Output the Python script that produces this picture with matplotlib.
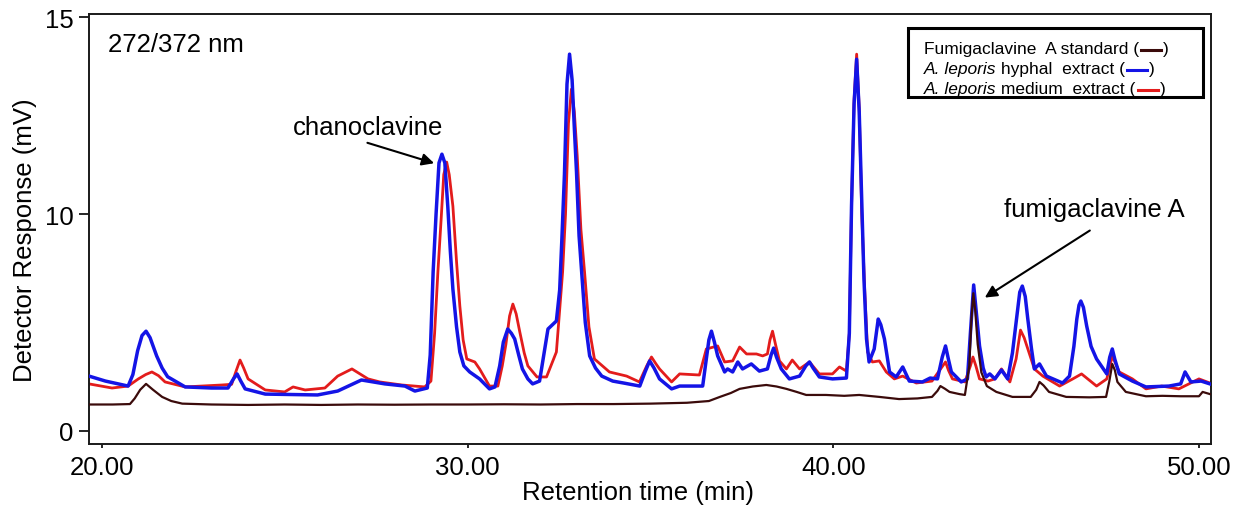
import matplotlib
matplotlib.use("Agg")
import matplotlib.pyplot as plt
import numpy as np
from matplotlib.patches import Rectangle
from matplotlib.lines import Line2D

plt.rcParams["font.family"] = ["Liberation Sans", "DejaVu Sans"]

# ---- chromatogram data (retention time in min, detector response in mV) ----
t_std = [19.65, 20.3, 20.77, 20.9, 21.05, 21.21, 21.4, 21.65, 21.9, 22.2, 23.0, 24.0, 25.0,
         26.0, 27.0, 28.0, 29.0, 30.0, 31.0, 32.0, 33.0, 34.0, 35.0, 36.0, 36.6, 36.9,
         37.2, 37.44, 37.8, 38.17, 38.45, 38.72, 39.0, 39.26, 39.8, 40.3, 40.71, 41.26,
         41.8, 42.3, 42.7, 42.85, 42.93, 43.05, 43.18, 43.45, 43.6, 43.72, 43.78, 43.83,
         43.88, 43.95, 44.05, 44.2, 44.46, 44.9, 45.4, 45.55, 45.64, 45.75, 45.9, 46.37,
         47.0, 47.46, 47.55, 47.63, 47.7, 47.77, 48.0, 48.55, 49.0, 49.5, 50.0, 50.1, 50.3]
v_std = [1.22, 1.22, 1.24, 1.5, 1.9, 2.17, 1.9, 1.57, 1.38, 1.26, 1.22, 1.2, 1.22,
         1.2, 1.22, 1.21, 1.22, 1.22, 1.23, 1.22, 1.24, 1.24, 1.26, 1.3, 1.38, 1.57,
         1.75, 1.94, 2.05, 2.12, 2.05, 1.94, 1.8, 1.66, 1.66, 1.62, 1.66, 1.57,
         1.47, 1.5, 1.57, 1.85, 2.07, 1.95, 1.8, 1.7, 1.66, 3.0, 5.2, 6.35,
         5.6, 4.0, 2.7, 2.07, 1.8, 1.57, 1.57, 1.9, 2.26, 2.1, 1.8, 1.57,
         1.55, 1.57, 2.3, 3.09, 2.8, 2.26, 1.8, 1.6, 1.62, 1.6, 1.6, 1.8, 1.7]

t_hyph = [19.65, 20.1, 20.72, 20.85, 20.98, 21.1, 21.21, 21.32, 21.5, 21.65, 21.8, 22.28,
          23.0, 23.45, 23.6, 23.7, 23.8, 23.92, 24.47, 25.2, 25.9, 26.45, 27.1, 27.74,
          28.29, 28.56, 28.9, 28.98, 29.06, 29.14, 29.22, 29.3, 29.38, 29.46, 29.53, 29.6,
          29.7, 29.79, 29.9, 30.06, 30.33, 30.6, 30.75, 30.88, 30.98, 31.1, 31.2, 31.29,
          31.4, 31.5, 31.65, 31.78, 31.97, 32.2, 32.43, 32.52, 32.58, 32.65, 32.72, 32.79,
          32.86, 32.92, 32.98, 33.05, 33.12, 33.22, 33.34, 33.5, 33.67, 33.97, 34.3, 34.71,
          34.85, 34.98, 35.1, 35.25, 35.58, 35.8, 36.43, 36.53, 36.6, 36.67, 36.75, 36.84,
          37.03, 37.11, 37.25, 37.39, 37.52, 37.76, 37.98, 38.2, 38.3, 38.37, 38.45, 38.58,
          38.8, 39.08, 39.25, 39.35, 39.45, 39.62, 39.98, 40.36, 40.44, 40.5, 40.57, 40.64,
          40.71, 40.77, 40.84, 40.91, 40.98, 41.12, 41.23, 41.3, 41.4, 41.54, 41.72, 41.9,
          42.08, 42.44, 42.65, 42.85, 42.98, 43.07, 43.15, 43.23, 43.5, 43.67, 43.75, 43.84,
          43.92, 44.0, 44.1, 44.18, 44.28, 44.42, 44.6, 44.77, 44.9, 45.0, 45.1, 45.17,
          45.25, 45.32, 45.42, 45.5, 45.64, 45.83, 46.27, 46.46, 46.58, 46.66, 46.72, 46.77,
          46.84, 46.93, 47.05, 47.2, 47.48, 47.56, 47.63, 47.7, 47.82, 48.18, 48.55, 49.18,
          49.5, 49.62, 49.78, 50.06, 50.3]
v_hyph = [2.53, 2.3, 2.07, 2.6, 3.7, 4.4, 4.6, 4.3, 3.46, 2.9, 2.5, 2.03,
          1.98, 1.98, 2.4, 2.63, 2.3, 1.94, 1.7, 1.68, 1.66, 1.84, 2.35, 2.17,
          2.07, 1.84, 1.98, 3.5, 7.33, 10.0, 11.3, 11.52, 11.3, 10.2, 8.3, 6.54,
          4.8, 3.64, 3.0, 2.72, 2.4, 1.94, 2.03, 3.0, 4.1, 4.7, 4.5, 4.24,
          3.5, 2.86, 2.4, 2.17, 2.3, 4.7, 5.07, 6.5, 8.85, 11.0, 13.3, 14.06,
          13.4, 12.2, 11.07, 9.0, 7.33, 5.0, 3.46, 2.9, 2.53, 2.3, 2.2, 2.07,
          2.7, 3.23, 2.9, 2.4, 1.94, 2.07, 2.07, 3.32, 4.2, 4.6, 4.1, 3.46,
          2.72, 2.86, 2.72, 3.18, 2.86, 3.09, 2.76, 2.86, 3.5, 3.82, 3.4, 2.86,
          2.4, 2.53, 3.0, 3.18, 2.9, 2.49, 2.4, 2.44, 4.5, 10.2, 12.8, 13.93,
          12.6, 10.63, 7.0, 4.24, 3.18, 3.78, 5.16, 4.9, 4.24, 2.72, 2.49, 2.95,
          2.3, 2.26, 2.44, 2.4, 3.4, 3.92, 3.3, 2.72, 2.26, 2.4, 4.5, 6.73,
          5.3, 3.92, 2.9, 2.49, 2.63, 2.4, 2.81, 2.4, 3.6, 5.02, 6.4, 6.68,
          6.2, 5.16, 3.8, 2.86, 3.09, 2.53, 2.21, 2.53, 3.9, 5.16, 5.8, 5.99,
          5.7, 4.84, 3.9, 3.32, 2.63, 3.4, 3.78, 3.3, 2.63, 2.3, 2.03, 2.07,
          2.17, 2.72, 2.26, 2.3, 2.17]

t_med = [19.65, 20.28, 20.72, 21.0, 21.2, 21.37, 21.55, 21.73, 22.28, 22.74, 23.29, 23.55,
         23.68, 23.78, 23.88, 24.0, 24.47, 25.0, 25.23, 25.56, 26.1, 26.45, 26.84, 27.28,
         27.6, 28.2, 28.83, 29.0, 29.1, 29.19, 29.28, 29.35, 29.43, 29.5, 29.6, 29.7,
         29.79, 29.88, 29.98, 30.2, 30.33, 30.6, 30.83, 30.95, 31.05, 31.15, 31.24, 31.33,
         31.43, 31.55, 31.65, 31.9, 32.16, 32.43, 32.6, 32.68, 32.76, 32.84, 32.92, 33.0,
         33.1, 33.2, 33.32, 33.47, 33.88, 34.35, 34.7, 34.9, 35.03, 35.15, 35.25, 35.58,
         35.8, 36.34, 36.53, 36.84, 37.03, 37.25, 37.44, 37.63, 37.9, 38.07, 38.2, 38.27,
         38.34, 38.42, 38.53, 38.72, 38.88, 39.08, 39.35, 39.62, 39.98, 40.17, 40.36, 40.44,
         40.5, 40.57, 40.64, 40.71, 40.78, 40.86, 40.94, 41.07, 41.26, 41.45, 41.67, 41.9,
         42.27, 42.7, 42.95, 43.07, 43.15, 43.26, 43.6, 43.75, 43.82, 43.9, 44.0, 44.23,
         44.42, 44.6, 44.83, 45.0, 45.12, 45.22, 45.32, 45.5, 45.73, 46.19, 46.55, 46.79,
         47.2, 47.48, 47.63, 47.82, 48.18, 48.55, 48.98, 49.45, 50.0, 50.3]
v_med = [2.17, 1.98, 2.07, 2.4, 2.6, 2.72, 2.55, 2.26, 2.03, 2.07, 2.12, 2.15,
         2.8, 3.27, 2.9, 2.4, 1.89, 1.8, 2.03, 1.89, 1.98, 2.53, 2.86, 2.4,
         2.26, 2.12, 2.03, 2.3, 4.5, 7.33, 9.8, 11.0, 11.32, 11.0, 10.2, 7.8,
         5.76, 4.2, 3.32, 3.18, 2.86, 2.07, 2.07, 3.0, 4.0, 5.3, 5.85, 5.4,
         4.56, 3.6, 3.0, 2.49, 2.49, 3.64, 7.33, 10.0, 12.3, 13.17, 12.6, 11.47,
         9.3, 7.33, 4.8, 3.32, 2.72, 2.53, 2.26, 3.0, 3.41, 3.1, 2.86, 2.26,
         2.63, 2.58, 3.78, 3.92, 3.18, 3.23, 3.87, 3.55, 3.55, 3.46, 3.55, 4.2,
         4.6, 4.0, 3.23, 2.86, 3.27, 2.86, 3.18, 2.63, 2.63, 2.95, 2.76, 4.5,
         10.2, 12.9, 14.06, 12.7, 10.0, 6.5, 3.64, 3.18, 3.23, 2.72, 2.4, 2.53,
         2.21, 2.3, 2.9, 3.18, 2.8, 2.4, 2.26, 3.0, 3.41, 3.0, 2.4, 2.3,
         2.4, 2.86, 2.26, 3.32, 4.65, 4.3, 3.78, 2.86, 2.53, 2.07, 2.4, 2.63,
         2.07, 2.4, 3.46, 2.72, 2.4, 1.94, 2.07, 1.94, 2.4, 2.21]

x_ticks = [20, 30, 40, 50]
x_tick_labels = ["20.00", "30.00", "40.00", "50.00"]
y_ticks = [0, 10, 15]
y_tick_labels = ["0", "10", "15"]

C_STD = "#3b0b0b"
C_HYPH = "#1414e6"
C_MED = "#e31c1c"

# The response axis is stretched above 10 mV
K = 39.4 / 21.7


def fwd(y):
    y = np.asarray(y, dtype=float)
    return np.where(y <= 10, y, 10 + (y - 10) * K)


def inv(y):
    y = np.asarray(y, dtype=float)
    return np.where(y <= 10, y, 10 + (y - 10) / K)


FS = 18.5

fig = plt.figure(figsize=(12.36, 5.1), dpi=100)
ax = fig.add_axes([0.0720, 0.1275, 0.9078, 0.8431])
ax.set_yscale("function", functions=(fwd, inv))

ax.plot(t_med, v_med, color=C_MED, lw=2.0, zorder=2, solid_joinstyle="round")
ax.plot(t_hyph, v_hyph, color=C_HYPH, lw=2.5, zorder=3, solid_joinstyle="round")
ax.plot(t_std, v_std, color=C_STD, lw=1.6, zorder=4, solid_joinstyle="round")

ax.set_xlim(19.65, 50.33)
ax.set_ylim(-0.6, 15.08)

ax.set_xticks(x_ticks)
ax.set_xticklabels(x_tick_labels)
ax.set_yticks(y_ticks)
ax.set_yticklabels(y_tick_labels)
ax.minorticks_off()
ax.tick_params(axis="x", direction="out", length=3, width=1.2, pad=5, labelsize=FS)
ax.tick_params(axis="y", direction="out", length=7, width=1.2, pad=4, labelsize=FS)
for s in ax.spines.values():
    s.set_linewidth(1.4)
    s.set_color("#1a1a1a")

ax.set_xlabel("Retention time (min)", fontsize=FS)
ax.set_ylabel("Detector Response (mV)", fontsize=FS)
ax.xaxis.set_label_coords(0.489, -0.084)
ax.yaxis.set_label_coords(-0.046, 0.477)

ax.text(20.17, 14.31, "272/372 nm", fontsize=FS, ha="left", va="center")

# peak annotations
ax.text(27.28, 12.21, "chanoclavine", fontsize=FS, ha="center", va="center")
ax.annotate("", xy=(29.16, 11.27), xytext=(27.19, 11.83),
            arrowprops=dict(arrowstyle="-|>", color="black", lw=1.5, mutation_scale=18))
ax.text(47.14, 10.13, "fumigaclavine A", fontsize=FS, ha="center", va="center")
ax.annotate("", xy=(44.08, 6.08), xytext=(47.08, 9.31),
            arrowprops=dict(arrowstyle="-|>", color="black", lw=1.5, mutation_scale=18))

# legend box with inline line samples
ax.add_patch(Rectangle((0.730, 0.807), 0.263, 0.160, transform=ax.transAxes,
                       facecolor="white", edgecolor="black", lw=2.2, zorder=5))

LFS = 12.5
legend_rows = [
    ([("Fumigaclavine  A standard (", "normal")], C_STD, 0.9186),
    ([("A. leporis", "italic"), (" hyphal  extract (", "normal")], C_HYPH, 0.8721),
    ([("A. leporis", "italic"), (" medium  extract (", "normal")], C_MED, 0.8256),
]

last_pieces = []
for pieces, color, yf in legend_rows:
    first_text, first_style = pieces[0]
    prev = ax.text(0.744, yf, first_text, transform=ax.transAxes, fontsize=LFS,
                   style=first_style, ha="left", va="center", zorder=6)
    for txt, sty in pieces[1:]:
        prev = ax.annotate(txt, xy=(1, 0), xycoords=prev, fontsize=LFS, style=sty,
                           ha="left", va="bottom", zorder=6)
    last_pieces.append((prev, color))

fig.canvas.draw()
renderer = fig.canvas.get_renderer()
for prev, color in last_pieces:
    bb = prev.get_window_extent(renderer)
    ymid = (bb.y0 + bb.y1) / 2 - 1
    x0 = bb.x1 + 2
    x1 = x0 + 20
    (fx0, fy), (fx1, _) = fig.transFigure.inverted().transform([(x0, ymid), (x1, ymid)])
    fig.add_artist(Line2D([fx0, fx1], [fy, fy], color=color, lw=2.2,
                          transform=fig.transFigure, zorder=7))
    fig.text(fx1 + 2.0 / 1236, fy + 1.0 / 510, ")", fontsize=LFS, ha="left", va="center",
             zorder=7)

fig.savefig("out.png", dpi=100)
